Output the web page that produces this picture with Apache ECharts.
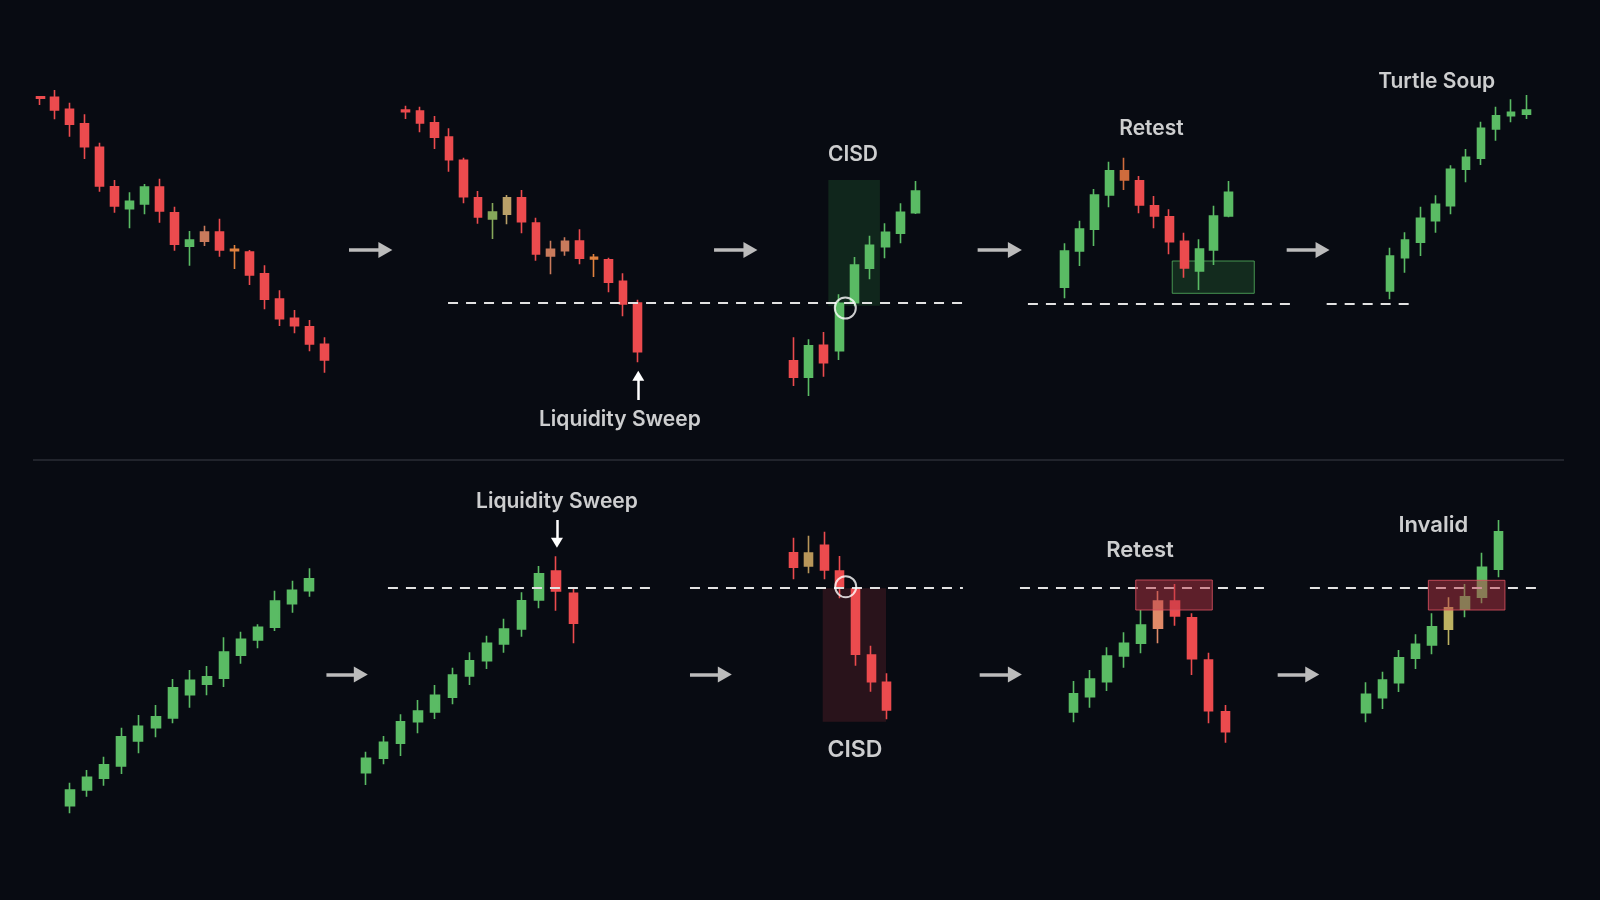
<!DOCTYPE html>
<html><head><meta charset="utf-8">
<script src="https://cdn.jsdelivr.net/npm/echarts@6/dist/echarts.min.js"></script>
<style>html,body{margin:0;padding:0;background:#080b12;}#c{width:1600px;height:900px;}</style>
</head><body><div id="c"></div><script>
// ---- DATA: candles as [open, close, low, high] ----
const p1Bars = [[903.3,901.7,895.0,903.4],[902.7,890.0,880.7,910.0],[890.7,875.7,863.3,897.3],[876.3,853.3,841.0,885.7],[852.7,814.0,808.3,857.3],[813.3,794.0,787.3,820.0],[791.3,798.7,771.7,807.7],[796.0,813.0,785.7,816.0],[813.0,789.0,777.3,821.3],[787.3,755.7,749.3,793.3],[753.7,760.0,734.3,769.0],[768.0,758.7,754.0,774.3],[768.0,750.0,743.3,781.3],[750.7,749.3,731.0,755.0],[748.0,725.0,715.0,750.0],[726.3,700.7,690.7,734.7],[701.0,681.3,674.0,709.7],[681.7,674.3,666.7,690.0],[673.3,656.0,648.7,680.0],[655.7,640.0,627.3,662.7]];
const p2Bars = [[890.0,888.3,881.0,894.3],[889.0,877.0,867.7,893.3],[877.3,862.7,851.0,884.0],[863.0,840.3,828.3,871.7],[839.7,803.3,796.7,842.3],[802.3,783.0,776.3,809.0],[781.0,788.0,761.0,797.0],[785.7,802.3,775.7,805.0],[802.3,778.3,766.7,810.0],[777.0,746.0,739.3,782.3],[750.7,744.0,725.7,759.3],[758.7,749.3,744.3,762.7],[759.0,741.7,735.7,770.7],[742.7,741.0,723.0,746.0],[740.3,717.7,707.7,742.3],[718.7,696.0,683.7,726.7],[697.0,648.3,637.7,700.3]];
const p3Bars = [[639.3,622.7,614.0,662.7],[622.7,654.3,604.0,660.7],[654.7,637.3,623.3,668.0],[649.3,696.7,640.0,705.7],[697.3,735.0,694.3,743.0],[731.7,754.7,720.7,764.3],[753.3,767.7,741.7,776.7],[766.7,787.7,756.7,796.7],[787.3,809.0,786.0,819.0]];
const p4Bars = [[712.7,749.0,701.7,756.7],[749.0,771.0,734.0,779.3],[770.7,805.0,754.0,811.0],[805.0,829.3,792.7,838.3],[829.3,820.0,810.0,842.3],[819.3,795.0,786.7,824.0],[794.3,784.0,771.7,804.0],[783.3,758.3,745.7,790.7],[758.7,732.0,722.3,767.3],[729.0,751.0,710.0,760.7],[750.0,784.0,735.0,794.3],[784.0,807.7,782.7,819.0]];
const p5Bars = [[709.0,744.0,700.7,752.3],[742.3,760.0,727.3,767.7],[757.7,781.7,744.0,793.3],[779.3,795.7,767.3,804.7],[794.3,830.7,785.7,834.7],[830.7,842.7,817.7,851.0],[841.7,871.7,835.0,878.3],[871.0,884.3,859.3,893.3],[884.3,887.7,877.7,900.7],[885.7,890.0,881.0,905.0]];
const p6Bars = [[194.3,210.0,186.7,217.3],[210.0,222.7,203.3,230.0],[221.7,235.3,214.3,243.3],[234.0,263.3,226.0,272.3],[259.0,273.7,246.7,285.0],[272.3,283.3,262.7,295.0],[282.0,312.3,276.7,321.0],[305.3,319.7,292.3,330.0],[315.7,323.3,304.7,334.0],[321.7,348.0,313.0,362.7],[344.7,360.7,336.3,368.3],[360.0,372.7,351.7,375.7],[372.7,399.0,369.0,409.3],[396.3,409.7,387.3,419.3],[409.3,421.3,403.3,431.7]];
const p7Bars = [[227.3,241.7,215.0,248.3],[241.7,257.7,235.7,264.0],[256.7,278.3,244.0,285.7],[278.3,289.0,266.7,300.0],[288.0,304.7,281.0,315.0],[302.7,325.0,295.7,332.3],[324.0,339.3,315.0,347.7],[339.3,356.7,331.0,364.3],[356.0,371.0,347.3,381.3],[371.0,399.3,363.3,407.7],[400.0,426.3,391.7,434.0],[429.0,409.0,389.3,443.7],[406.7,376.7,356.7,412.3]];
const p8Bars = [[447.3,432.7,420.7,462.3],[434.0,447.0,426.7,464.3],[454.7,430.0,420.7,468.3],[429.0,412.3,401.7,444.0],[411.0,345.7,334.3,411.7],[345.0,318.3,308.3,354.3],[317.7,290.0,280.7,326.7]];
const p9Bars = [[288.0,306.3,277.7,319.0],[303.3,321.0,292.3,330.0],[318.3,344.0,309.0,352.7],[344.0,356.7,332.3,367.7],[356.7,375.0,346.7,390.0],[371.7,399.0,356.7,409.0],[399.0,384.0,374.3,416.0],[382.3,341.3,325.0,386.7],[340.0,289.3,276.7,347.3],[288.3,268.3,257.3,295.0]];
const p10Bars = [[287.3,305.7,277.7,317.7],[302.3,320.0,291.0,328.3],[317.3,342.3,308.0,350.0],[341.7,355.7,331.0,365.7],[355.0,373.3,345.7,386.7],[370.7,392.3,355.0,402.7],[390.7,403.3,382.7,416.0],[402.7,432.7,396.7,447.3],[430.7,468.3,422.7,480.0]];
const panelBars = [p1Bars,p2Bars,p3Bars,p4Bars,p5Bars,p6Bars,p7Bars,p8Bars,p9Bars,p10Bars];

// muted / transitional candles (panel index -> {candle index: tone})
const panelTones = [{11:'tan',13:'amber'},{6:'olive',7:'khaki',10:'tan',11:'tan',13:'amber'},{},{4:'orange'},{},{},{},{1:'sand'},{5:'salmon'},{5:'lime'}];

// key levels: [panel, price, fromIndex, toIndex]
const levels = [[1,697.3,2.92,38.9],[3,696.7,-2.43,15.08],[4,696.0,-4.18,1.54],[6,412.3,1.27,16.55],[7,412.3,-6.64,10.9],[8,412.3,-3.15,11.32],[9,412.3,-3.39,10.62]];
// zones: [panel, fromIndex, toIndex, topPrice, bottomPrice, kind]
const zones = [[2,2.29,5.66,820.0,694.3,'cisdBull'],[3,7.21,12.69,739.0,706.7,'retestBull'],[7,1.89,5.96,411.7,278.3,'cisdBear'],[8,3.69,8.21,420.0,390.0,'retestBear'],[9,3.77,8.40,419.7,390.0,'retestBear']];
// break markers: [panel, index, price]
const breaks = [[2,3.4,692.0],[7,3.37,413.3]];
// labels: [panel, index, price, text, size]
const labels = [[1,14.77,580.0,'Liquidity Sweep',21],[2,3.9,845.0,'CISD',21],[3,5.82,871.7,'Retest',21],[4,3.08,918.3,'Turtle Soup',21],[6,11.05,498.3,'Liquidity Sweep',21],[7,3.96,250.0,'CISD',23],[8,3.94,450.0,'Retest',22],[9,4.07,475.0,'Invalid',22]];
// pointer arrows: [panel, index, fromPrice, toPrice]
const pointers = [[1,16.04,600.0,628.3],[6,11.05,480.0,453.3]];
// flow arrows between stages: [panel, fromIndex, toIndex, price]
const flows = [[1,-3.91,-1.4,750],[2,-5.18,-2.8,750],[3,-5.79,-3.3,750],[4,-6.82,-4.45,750],[6,-2.29,-0.3,325.5],[7,-6.64,-4.4,325.5],[8,-5.53,-3.45,325.5],[9,-5.34,-3.25,325.5]];

// ---- LAYOUT ----
const W = 1600;
const LAYOUT = [
  {x0:40, step:14.98, bw:8.5},
  {x0:405.7, step:14.5, bw:8},
  {x0:793.3, step:15.3, bw:8.5},
  {x0:1064.3, step:14.97, bw:8.5},
  {x0:1390, step:15.15, bw:8},
  {x0:70, step:17.1, bw:9.5},
  {x0:366, step:17.28, bw:9},
  {x0:793.3, step:15.56, bw:8.5},
  {x0:1073.3, step:16.93, bw:9},
  {x0:1366, step:16.54, bw:9}
];
const GREEN = '#5abb64', RED = '#ec4b4e';
const TONES = {tan:'#c97b5c', amber:'#e0823f', olive:'#86a85a', khaki:'#b9a068', orange:'#cf6c3d', salmon:'#e08a68', sand:'#b8965a', lime:'#bdb262'};
const ZONE_STYLE = {
  cisdBull: {z:1, itemStyle:{color:'rgba(40,110,55,0.28)', borderWidth:0}},
  retestBull: {z:1, itemStyle:{color:'rgba(45,120,60,0.30)', borderColor:'rgba(90,190,100,0.75)', borderWidth:1}},
  cisdBear: {z:1, itemStyle:{color:'rgba(120,40,50,0.30)', borderWidth:0}},
  retestBear: {z:4, itemStyle:{color:'rgba(185,55,70,0.48)', borderColor:'rgba(215,80,95,0.85)', borderWidth:1}}
};

const grids = [], xAxes = [], yAxes = [], series = [];
LAYOUT.forEach((L, k) => {
  grids.push({left:0, right:0, top:0, bottom:0, containLabel:false});
  xAxes.push({type:'value', gridIndex:k, show:false, min:-L.x0/L.step, max:(W-L.x0)/L.step});
  yAxes.push({type:'value', gridIndex:k, show:false, min:100, max:1000});
  const tones = panelTones[k];
  const data = panelBars[k].map((b, i) => {
    const item = {value:[i, b[0], b[1], b[2], b[3]]};
    if (tones[i]) { const c = TONES[tones[i]]; item.itemStyle = {color:c, color0:c, borderColor:c, borderColor0:c}; }
    return item;
  });
  series.push({
    type:'candlestick', xAxisIndex:k, yAxisIndex:k, barWidth:L.bw, z:2, silent:true,
    itemStyle:{color:GREEN, color0:RED, borderColor:GREEN, borderColor0:RED, borderWidth:1.6},
    data
  });
});

// levels
levels.forEach(([k, p, a, b]) => {
  series.push({type:'line', xAxisIndex:k, yAxisIndex:k, data:[], silent:true,
    markLine:{silent:true, symbol:['none','none'], label:{show:false}, z:3,
      lineStyle:{color:'#e2e2e2', width:2, type:[10,8]},
      data:[[{coord:[a,p]},{coord:[b,p]}]]}});
});
// zones
zones.forEach(([k, a, b, top, bot, kind]) => {
  const st = ZONE_STYLE[kind];
  series.push({type:'line', xAxisIndex:k, yAxisIndex:k, data:[], silent:true,
    markArea:{silent:true, z:st.z, itemStyle:st.itemStyle, label:{show:false},
      data:[[{coord:[a,top]},{coord:[b,bot]}]]}});
});
// flow arrows and pointers
flows.forEach(([k, a, b, p]) => {
  series.push({type:'line', xAxisIndex:k, yAxisIndex:k, data:[], silent:true,
    markLine:{silent:true, symbol:['none','triangle'], symbolSize:[16,14], label:{show:false}, z:3,
      lineStyle:{color:'#bcbcbc', width:3.5, type:'solid'},
      data:[[{coord:[a,p]},{coord:[b,p]}]]}});
});
pointers.forEach(([k, x, p0, p1]) => {
  series.push({type:'line', xAxisIndex:k, yAxisIndex:k, data:[], silent:true,
    markLine:{silent:true, symbol:['none','triangle'], symbolSize:[12,10], label:{show:false}, z:6,
      lineStyle:{color:'#ffffff', width:2.5, type:'solid'},
      data:[[{coord:[x,p0]},{coord:[x,p1 - (p1 > p0 ? 4 : -4)]}]]}});
});
// break circles
breaks.forEach(([k, x, p]) => {
  series.push({type:'scatter', xAxisIndex:k, yAxisIndex:k, silent:true, z:6, symbol:'circle', symbolSize:21,
    itemStyle:{color:'rgba(0,0,0,0)', borderColor:'#ffffff', borderWidth:2},
    data:[[x,p]]});
});
// labels
labels.forEach(([k, x, p, t, s]) => {
  series.push({type:'scatter', xAxisIndex:k, yAxisIndex:k, silent:true, z:7, symbolSize:1,
    itemStyle:{color:'rgba(0,0,0,0)'},
    label:{show:true, position:'inside', formatter:'{b}', color:'#ffffff', fontSize:s, fontWeight:600, fontFamily:'Inter, Roboto, sans-serif'},
    data:[{name:t, value:[x,p]}]});
});

const chart = echarts.init(document.getElementById('c'), null, {renderer:'canvas'});
chart.setOption({
  backgroundColor:'#080b12',
  animation:false,
  grid:grids, xAxis:xAxes, yAxis:yAxes, series,
  graphic:[{type:'line', silent:true, shape:{x1:33, y1:460, x2:1564, y2:460}, style:{stroke:'#3b3e46', lineWidth:1.2}}]
});
</script></body></html>
